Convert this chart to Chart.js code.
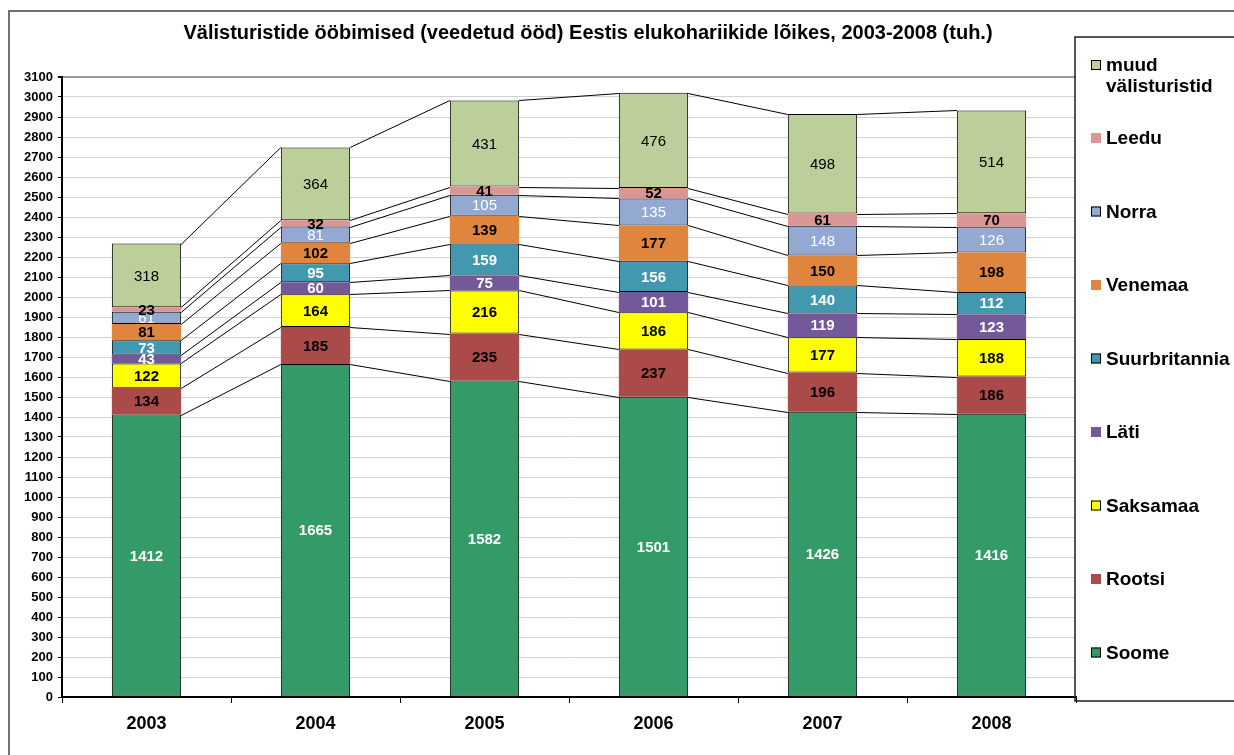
<!DOCTYPE html>
<html>
<head>
<meta charset="utf-8">
<script src="https://cdn.jsdelivr.net/npm/chart.js@4"></script>
<style>
  html, body { margin: 0; padding: 0; background: #fff; }
  canvas { display: block; }
</style>
</head>
<body>
<canvas id="stayChart" width="1234" height="755"></canvas>
<script>
// ---- data (tuh. ööd) ----
const years = ["2003", "2004", "2005", "2006", "2007", "2008"];
const soome = [1412, 1665, 1582, 1501, 1426, 1416];
const rootsi = [134, 185, 235, 237, 196, 186];
const saksamaa = [122, 164, 216, 186, 177, 188];
const lati = [43, 60, 75, 101, 119, 123];
const suurbritannia = [73, 95, 159, 156, 140, 112];
const venemaa = [81, 102, 139, 177, 150, 198];
const norra = [61, 81, 105, 135, 148, 126];
const leedu = [23, 32, 41, 52, 61, 70];
const muud = [318, 364, 431, 476, 498, 514];
const yMax = 3100;
const yStep = 100;

const titleText = "Välisturistide ööbimised (veedetud ööd) Eestis elukohariikide lõikes, 2003-2008 (tuh.)";
const FONT = "'Liberation Sans', Arial, sans-serif";

// label, data, fill, outlined, label colour, bold label
const series = [
    ["Soome", soome, "#349a67", true, "#fff", true],
    ["Rootsi", rootsi, "#aa4a49", false, "#000", true],
    ["Saksamaa", saksamaa, "#ffff00", true, "#000", true],
    ["Läti", lati, "#74599a", false, "#fff", true],
    ["Suurbritannia", suurbritannia, "#4298ae", true, "#fff", true],
    ["Venemaa", venemaa, "#e0853e", false, "#000", true],
    ["Norra", norra, "#94a9d2", true, "#fff", false],
    ["Leedu", leedu, "#d99694", false, "#000", true],
    ["muud\nvälisturistid", muud, "#bccf9a", true, "#000", false]
];

const datasets = series.map(s => ({
    label: s[0],
    data: s[1],
    backgroundColor: s[2],
    borderColor: "#000",
    borderWidth: s[3] ? 1 : 0,
    borderSkipped: false,
    barPercentage: 0.41,
    categoryPercentage: 1,
    labelColor: s[4],
    labelBold: s[5]
}));

// frame, title, series lines, value labels and legend
const overlay = {
    id: "overlay",
    beforeDraw(chart) {
        const ctx = chart.ctx;
        ctx.save();
        ctx.fillStyle = "#fff";
        ctx.fillRect(0, 0, chart.width, chart.height);
        ctx.strokeStyle = "#707070";
        ctx.lineWidth = 2;
        ctx.beginPath();
        ctx.moveTo(9, chart.height);
        ctx.lineTo(9, 11);
        ctx.lineTo(chart.width, 11);
        ctx.stroke();
        ctx.restore();
    },
    afterDatasetsDraw(chart) {
        const ctx = chart.ctx;
        ctx.save();

        // series lines between neighbouring bars
        ctx.strokeStyle = "#000";
        ctx.lineWidth = 1;
        chart.data.datasets.forEach((ds, i) => {
            const bars = chart.getDatasetMeta(i).data;
            for (let j = 0; j < bars.length - 1; j++) {
                const a = bars[j], b = bars[j + 1];
                ctx.beginPath();
                ctx.moveTo(a.x + a.width / 2, Math.round(a.y) + 0.5);
                ctx.lineTo(b.x - b.width / 2, Math.round(b.y) + 0.5);
                ctx.stroke();
            }
        });

        // value labels
        ctx.textAlign = "center";
        ctx.textBaseline = "middle";
        chart.data.datasets.forEach((ds, i) => {
            const bars = chart.getDatasetMeta(i).data;
            ctx.fillStyle = ds.labelColor;
            ctx.font = (ds.labelBold ? "bold " : "") + "15px " + FONT;
            bars.forEach((bar, j) => {
                ctx.fillText(String(ds.data[j]), bar.x, (bar.y + bar.base) / 2 + 1);
            });
        });

        ctx.restore();
    },
    afterDraw(chart) {
        const ctx = chart.ctx;
        ctx.save();

        // title
        ctx.fillStyle = "#000";
        ctx.font = "bold 20px " + FONT;
        ctx.textAlign = "center";
        ctx.textBaseline = "middle";
        ctx.fillText(titleText, 588, 33);

        // legend box
        const boxLeft = 1075, boxTop = 37, boxBottom = 701;
        ctx.strokeStyle = "#202020";
        ctx.lineWidth = 1.5;
        ctx.beginPath();
        ctx.moveTo(chart.width, boxTop);
        ctx.lineTo(boxLeft, boxTop);
        ctx.lineTo(boxLeft, boxBottom);
        ctx.lineTo(chart.width, boxBottom);
        ctx.stroke();

        // legend entries, top to bottom
        ctx.font = "bold 19px " + FONT;
        ctx.textAlign = "left";
        const items = chart.data.datasets.slice().reverse();
        let y = 65;
        items.forEach((ds, k) => {
            const lines = ds.label.split("\n");
            ctx.fillStyle = ds.backgroundColor;
            ctx.fillRect(1091, y - 5, 10, 10);
            if (ds.borderWidth) {
                ctx.strokeStyle = "#000";
                ctx.lineWidth = 1;
                ctx.strokeRect(1091.5, y - 4.5, 9, 9);
            }
            ctx.fillStyle = "#000";
            lines.forEach((ln, m) => ctx.fillText(ln, 1106, y + 1 + m * 21));
            y += k === 0 ? 73 : 73.5;
        });

        ctx.restore();
    }
};

new Chart(document.getElementById("stayChart"), {
    type: "bar",
    data: { labels: years, datasets: datasets },
    options: {
        responsive: false,
        animation: false,
        devicePixelRatio: 1,
        layout: { padding: { left: 0, top: 77, right: 158, bottom: 0 } },
        plugins: {
            legend: { display: false },
            title: { display: false },
            tooltip: { enabled: false }
        },
        scales: {
            x: {
                stacked: true,
                afterFit(scale) { scale.height = 58; },
                border: { color: "#000", width: 2 },
                grid: {
                    offset: true,
                    drawOnChartArea: false,
                    tickLength: 6,
                    tickColor: "#000",
                    tickWidth: 1
                },
                ticks: {
                    color: "#000",
                    padding: 10,
                    font: { family: FONT, size: 18, weight: "bold" }
                }
            },
            y: {
                stacked: true,
                min: 0,
                max: yMax,
                afterFit(scale) { scale.width = 62; },
                border: { color: "#000", width: 2 },
                grid: {
                    color: c => (c.tick && c.tick.value === yMax ? "#9a9a9a" : "#d2d2d2"),
                    lineWidth: c => (c.tick && c.tick.value === yMax ? 2 : 1),
                    tickLength: 4,
                    tickColor: "#000"
                },
                ticks: {
                    stepSize: yStep,
                    color: "#000",
                    padding: 5,
                    callback: v => String(v),
                    font: { family: FONT, size: 13, weight: "bold" }
                }
            }
        }
    },
    plugins: [overlay]
});
</script>
</body>
</html>
